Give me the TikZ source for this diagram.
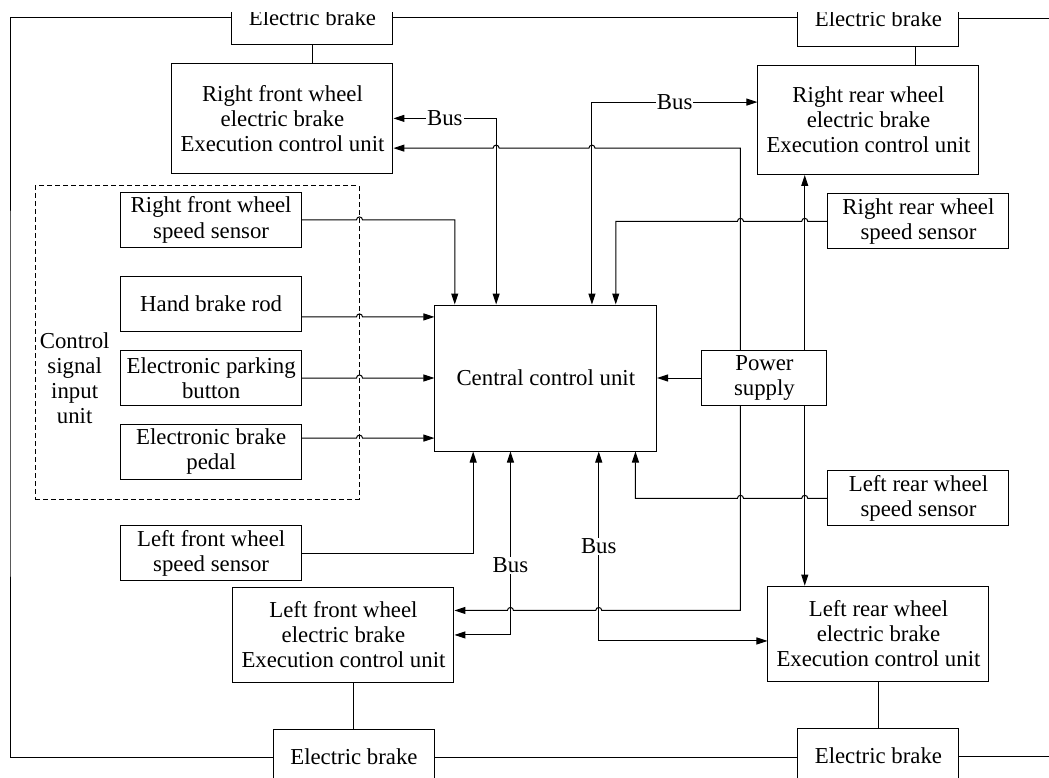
\documentclass[tikz,border=0pt]{standalone}
\usepackage{fontspec}
\setmainfont{Liberation Serif}
\usetikzlibrary{arrows.meta,positioning,calc}

% small bumps where a line crosses another one
\newcommand{\hopL}[1]{-- ($(#1)+(3pt,0)$) arc[start angle=0,end angle=180,radius=3pt]}
\newcommand{\hopR}[1]{-- ($(#1)+(-3pt,0)$) arc[start angle=180,end angle=0,radius=3pt]}

\begin{document}
\begin{tikzpicture}[
  x=1pt, y=-1pt,
  font=\fontsize{22.8}{25}\selectfont,
  line width=1pt,
  unit/.style={draw, align=center, minimum width=221pt, inner sep=2pt},
  sensor/.style={draw, align=center, minimum width=181pt, minimum height=55pt, inner sep=2pt},
  brake/.style={draw, minimum width=161pt, minimum height=55pt},
  core/.style={draw, align=center, minimum width=221.7pt, minimum height=146pt},
  group/.style={draw, dash pattern=on 5pt off 3pt, minimum width=324pt, minimum height=313pt},
  bus/.style={fill=white, inner sep=1pt},
  arr/.style={-{Triangle[length=11pt,width=7pt]}},
  biarr/.style={{Triangle[length=11pt,width=7pt]}-{Triangle[length=11pt,width=7pt]}}
]
  \useasboundingbox (0,0) rectangle (1049,778);
  \clip (0,13) rectangle (1049,778);

  % central unit and power supply
  \node[core] (ccu) at (545.8,378) {Central control unit};
  \node[sensor, minimum width=125pt, right=44.3pt of ccu] (ps) {Power\\supply};

  % control signal inputs
  \node[sensor, left=132.3pt of ccu] (epb) {Electronic parking\\button};
  \node[sensor, above=18.4pt of epb] (hbr) {Hand brake rod};
  \node[sensor, above=27.7pt of hbr] (rfwss) {Right front wheel\\speed sensor};
  \node[sensor, below=18pt of epb] (ebp) {Electronic brake\\pedal};
  \node[sensor, below=45.3pt of ebp] (lfwss) {Left front wheel\\speed sensor};
  \node[group] (csiu) at (197,342.5) {};
  \node[align=center] (csiuLbl) at ([xshift=-136.5pt]epb.center) {Control\\signal\\input\\unit};

  % rear sensors
  \node[sensor, above right=100.7pt and 0pt of ps] (rrwss) {Right rear wheel\\speed sensor};
  \node[sensor, below right=64.3pt and 0pt of ps] (lrwss) {Left rear wheel\\speed sensor};

  % execution control units
  \node[unit, minimum height=109.4pt, above=18.3pt of rfwss, xshift=71.3pt] (rfecu) {Right front wheel\\electric brake\\Execution control unit};
  \node[unit, minimum height=109.4pt, above=18.3pt of rrwss, xshift=-50pt] (rrecu) {Right rear wheel\\electric brake\\Execution control unit};
  \node[unit, minimum height=95.7pt, below=5.3pt of lfwss, xshift=132.3pt] (lfecu) {Left front wheel\\electric brake\\Execution control unit};
  \node[unit, minimum height=95.7pt, below=59.3pt of lrwss, xshift=-40pt] (lrecu) {Left rear wheel\\electric brake\\Execution control unit};

  % electric brakes
  \node[brake, above=17.7pt of rfecu, xshift=30pt] (ebTL) {Electric brake};
  \node[brake, above=17.7pt of rrecu, xshift=10pt] (ebTR) {Electric brake};
  \node[brake, below=45.7pt of lfecu, xshift=10.5pt] (ebBL) {Electric brake};
  \node[brake, below=45.7pt of lrecu] (ebBR) {Electric brake};

  \coordinate (inRFS) at ([xshift=20.3pt]ccu.north west);
  \coordinate (busRF) at ([xshift=61.7pt]ccu.north west);
  \coordinate (busRR) at ([xshift=157.5pt]ccu.north west);
  \coordinate (inRRS) at ([xshift=181.3pt]ccu.north west);
  \coordinate (inLFS) at ([xshift=38.7pt]ccu.south west);
  \coordinate (busLF) at ([xshift=76pt]ccu.south west);
  \coordinate (busLR) at ([xshift=164.3pt]ccu.south west);
  \coordinate (inLRS) at ([xshift=201pt]ccu.south west);
  \coordinate (pwLt) at ([xshift=39pt]ps.north west);
  \coordinate (pwRt) at ([xshift=103.3pt]ps.north west);
  \coordinate (pwLb) at ([xshift=39pt]ps.south west);
  \coordinate (pwRb) at ([xshift=103.3pt]ps.south west);
  \coordinate (rfIn) at ([yshift=-29.7pt]rfecu.east);
  \coordinate (rrIn) at ([yshift=17.7pt]rrecu.west);
  \coordinate (lfIn) at ([yshift=24.5pt]lfecu.east);
  \coordinate (lrIn) at ([yshift=-7pt]lrecu.west);
  \coordinate (hbrOut) at ([yshift=-13.3pt]hbr.east);
  \coordinate (ebpOut) at ([yshift=13.9pt]ebp.east);
  \coordinate (trDrop) at ([xshift=36.7pt]ebTR.south);
  \coordinate (frameL) at (10,400);
  \coordinate (frameR) at (1049,400);

  % sensor and input signals
  \draw[arr] (rfwss.east) \hopR{rfwss.east -| csiu.east} -| (inRFS);
  \draw[arr] (hbrOut) \hopR{hbrOut -| csiu.east} -- (hbrOut -| ccu.west);
  \draw[arr] (epb.east) \hopR{epb.east -| csiu.east} -- (epb.east -| ccu.west);
  \draw[arr] (ebpOut) \hopR{ebpOut -| csiu.east} -- (ebpOut -| ccu.west);
  \draw[arr] (lfwss.east) -| (inLFS);
  \draw[arr] (rrwss.west) \hopL{rrwss.west -| pwRt} \hopL{rrwss.west -| pwLt} -| (inRRS);
  \draw[arr] (lrwss.west) \hopL{lrwss.west -| pwRb} \hopL{lrwss.west -| pwLb} -| (inLRS);
  \draw[arr] (ps.west) -- (ps.west -| ccu.east);

  % power to the execution units
  \draw[arr] (pwLt) -- (pwLt |- rfIn) \hopL{busRR |- rfIn} \hopL{busRF |- rfIn} -- (rfIn);
  \draw[arr] (pwRt) -- (pwRt |- rrecu.south);
  \draw[arr] (pwLb) -- (pwLb |- lfIn) \hopL{busLR |- lfIn} \hopL{busLF |- lfIn} -- (lfIn);
  \draw[arr] (pwRb) -- (pwRb |- lrecu.north);

  % buses
  \draw[biarr] (busRF) |- node[bus, pos=0.75] {Bus} (rfecu.east);
  \draw[biarr] (busRR) |- node[bus, pos=0.75] {Bus} (rrIn);
  \draw[biarr] (busLF) |- node[bus, pos=0.31] {Bus} (lfecu.east);
  \draw[biarr] (busLR) |- node[bus, pos=0.25] {Bus} (lrIn);

  % brakes and frame
  \draw (ebTL.south) -- (ebTL.south |- rfecu.north);
  \draw (trDrop) -- (trDrop |- rrecu.north);
  \draw (ebBL.north) -- (ebBL.north |- lfecu.south);
  \draw (lrecu) -- (ebBR);
  \draw (ebTL.west) -| (frameL) |- (ebBL.west);
  \draw (ebTL.east) -- (ebTL.east -| ebTR.west);
  \draw (ebBL.east) -- (ebBL.east -| ebBR.west);
  \draw (ebTR.east) -- (ebTR.east -| frameR);
  \draw (ebBR.east) -- (ebBR.east -| frameR);
\end{tikzpicture}
\end{document}
